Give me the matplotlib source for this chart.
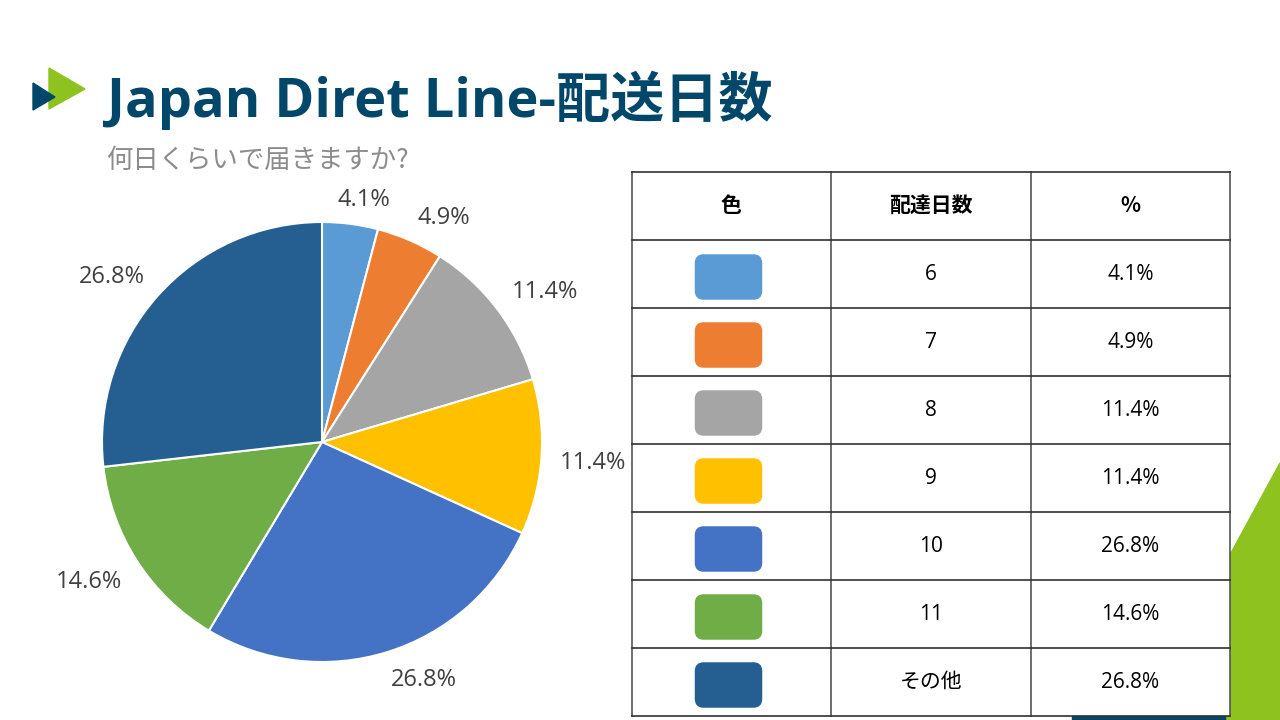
import numpy as np
import matplotlib
matplotlib.use("Agg")
import matplotlib.pyplot as plt
from matplotlib.patches import Polygon, Rectangle, FancyBboxPatch

# data
days = ["6", "7", "8", "9", "10", "11", "その他"]
shares = [4.1, 4.9, 11.4, 11.4, 26.8, 14.6, 26.8]
colors = ["#5B9BD5", "#ED7D31", "#A5A5A5", "#FFC000", "#4472C4", "#70AD47", "#255E91"]
header = ["色", "配達日数", "%"]

title = "Japan Diret Line-配送日数"
subtitle = "何日くらいで届きますか?"

NAVY = "#00476A"
LIME = "#8DC21F"
FONTS = ["Open Sans", "Noto Sans CJK JP", "DejaVu Sans"]

W, H = 1280, 720


def Y(y):
    # pixel rows from the top -> data y
    return H - y


fig = plt.figure(figsize=(12.8, 7.2), dpi=100)
ax = fig.add_axes([0, 0, 1, 1])

# background decorations
ax.add_patch(Polygon([(1280, Y(463)), (1140, Y(720)), (1280, Y(720))],
                     closed=True, color=LIME, zorder=1))
ax.add_patch(Rectangle((1072, 0), 153, 4, color=NAVY, zorder=1))

# logo
ax.add_patch(Polygon([(49, Y(68)), (49, Y(109)), (85, Y(89))], closed=True, color=LIME, zorder=2))
ax.add_patch(Polygon([(33, Y(83)), (33, Y(110)), (55, Y(97))], closed=True, color=NAVY, zorder=3))

ax.text(107, Y(100), title, fontsize=39, fontweight="bold", color=NAVY,
        family=FONTS, ha="left", va="center")
ax.text(106, Y(160), subtitle, fontsize=19, color="#8C8C8C",
        family=["Noto Sans CJK JP", "DejaVu Sans"], ha="left", va="center")

# pie
cx, cy, r = 322, Y(442), 220
wedges, _ = ax.pie(shares, colors=colors, startangle=90, counterclock=False,
                   center=(cx, cy), radius=r, frame=True,
                   wedgeprops=dict(edgecolor="white", linewidth=1.5))
ax.set_xlim(0, W)
ax.set_ylim(0, H)
ax.set_aspect("equal")
ax.axis("off")

# labels outside: nearest box corner sits on the mid-angle ray
fs = 17
cap = 0.72 * fs * 100 / 72
fig.canvas.draw()
renderer = fig.canvas.get_renderer()
for w, v in zip(wedges, shares):
    ang = np.deg2rad((w.theta1 + w.theta2) / 2)
    ux, uy = np.cos(ang), np.sin(ang)
    t = ax.text(cx, cy, f"{v:.1f}%", fontsize=fs, color="#404040",
                family=FONTS, ha="center", va="baseline", zorder=5)
    hw = t.get_window_extent(renderer).width / 2
    hh = cap / 2
    ax_, ay_ = cx + 1.082 * r * ux, cy + 1.082 * r * uy
    bx = ax_ + np.clip(ux / 0.31, -1, 1) * hw
    by = ay_ + np.clip(uy / 0.31, -1, 1) * hh
    t.set_position((bx, by - hh))

# table
col_x = [632, 831, 1031, 1230]
row_y = [172, 240] + [240 + 68 * (i + 1) for i in range(len(days))]
ax.add_patch(Rectangle((col_x[0], Y(row_y[-1])), col_x[-1] - col_x[0],
                       row_y[-1] - row_y[0], facecolor="white", edgecolor="none", zorder=2))
for x in col_x:
    ax.plot([x, x], [Y(row_y[0]), Y(row_y[-1])], color="#555555", lw=1.2, zorder=4)
for y in row_y:
    ax.plot([col_x[0], col_x[-1]], [Y(y), Y(y)], color="#303030", lw=1.2, zorder=4)

mids = [(col_x[i] + col_x[i + 1]) / 2 for i in range(3)]
for m, h in zip(mids, header):
    ax.text(m, Y((row_y[0] + row_y[1]) / 2), h, fontsize=15, fontweight="bold",
            color="black", family=["Noto Sans CJK JP", "DejaVu Sans"],
            ha="center", va="center", zorder=5)

for i, (d, v, c) in enumerate(zip(days, shares, colors)):
    yc = Y((row_y[i + 1] + row_y[i + 2]) / 2)
    ax.add_patch(FancyBboxPatch((mids[0] - 3 - 32, yc - 3 - 21), 64, 42,
                                boxstyle="round,pad=0,rounding_size=7",
                                mutation_aspect=1, facecolor=c, edgecolor=c,
                                lw=2.5, zorder=5))
    ax.text(mids[1], yc, d, fontsize=15, color="black",
            family=FONTS, ha="center", va="center", zorder=5)
    ax.text(mids[2], yc, f"{v:.1f}%", fontsize=15, color="black",
            family=FONTS, ha="center", va="center", zorder=5)

fig.savefig("out.png", dpi=100)
